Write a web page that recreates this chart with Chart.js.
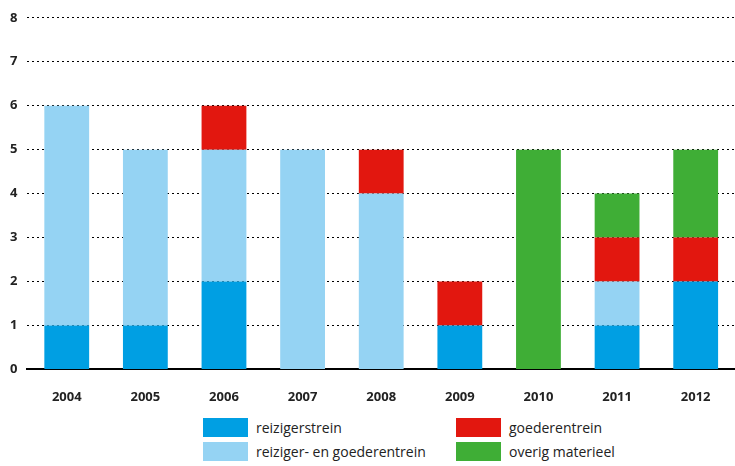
<!DOCTYPE html>
<html>
<head>
<meta charset="utf-8">
<script src="https://cdn.jsdelivr.net/npm/chart.js@4"></script>
<style>
  body { margin: 0; background: #fff; font-family: "Open Sans", sans-serif; }
  #wrap { position: relative; width: 735px; height: 417px; }
  .leg { position: absolute; font-size: 14px; color: #222; display: flex; align-items: center; }
  .leg span.box { display: inline-block; width: 45px; height: 19px; margin-right: 8px; }
</style>
</head>
<body>
<div id="wrap"><canvas id="grafico"></canvas></div>
<div class="leg" style="left:203px;top:418px"><span class="box" style="background:#009fe3"></span>reizigerstrein</div>
<div class="leg" style="left:203px;top:442px"><span class="box" style="background:#95d3f3"></span>reiziger- en goederentrein</div>
<div class="leg" style="left:456px;top:418px"><span class="box" style="background:#e2170f"></span>goederentrein</div>
<div class="leg" style="left:456px;top:442px"><span class="box" style="background:#3fae36"></span>overig materieel</div>
<script>
// Jaren en aantallen per type
const jaren = ['2004', '2005', '2006', '2007', '2008', '2009', '2010', '2011', '2012'];
const reizigerstrein = [1, 1, 2, 0, 0, 1, 0, 1, 2];
const reizigerGoederen = [5, 4, 3, 5, 4, 0, 0, 1, 0];
const goederentrein = [0, 0, 1, 0, 1, 1, 0, 1, 1];
const overigMaterieel = [0, 0, 0, 0, 0, 0, 5, 1, 2];

const ds = (label, data, color) => ({
    label, data, backgroundColor: color, barPercentage: 0.57, categoryPercentage: 1
});

new Chart(document.getElementById('grafico'), {
    type: 'bar',
    data: {
        labels: jaren,
        datasets: [
            ds('reizigerstrein', reizigerstrein, '#009fe3'),
            ds('reiziger- en goederentrein', reizigerGoederen, '#95d3f3'),
            ds('goederentrein', goederentrein, '#e2170f'),
            ds('overig materieel', overigMaterieel, '#3fae36')
        ]
    },
    options: {
        responsive: true,
        maintainAspectRatio: false,
        animation: false,
        layout: { padding: { top: 6, right: 0 } },
        plugins: { legend: { display: false }, tooltip: { enabled: false } },
        scales: {
            x: {
                stacked: true,
                grid: { display: false },
                border: { color: '#000', width: 2 },
                ticks: { color: '#222', font: { family: 'Open Sans', size: 13, weight: 'bold' }, padding: 12 }
            },
            y: {
                stacked: true,
                min: 0, max: 8,
                ticks: { stepSize: 1, color: '#222', font: { family: 'Open Sans', size: 13, weight: 'bold' }, padding: 10 },
                border: { display: false, dash: [2, 3] },
                grid: { color: '#000', lineWidth: 1, drawTicks: false }
            }
        }
    }
});
</script>
</body>
</html>
